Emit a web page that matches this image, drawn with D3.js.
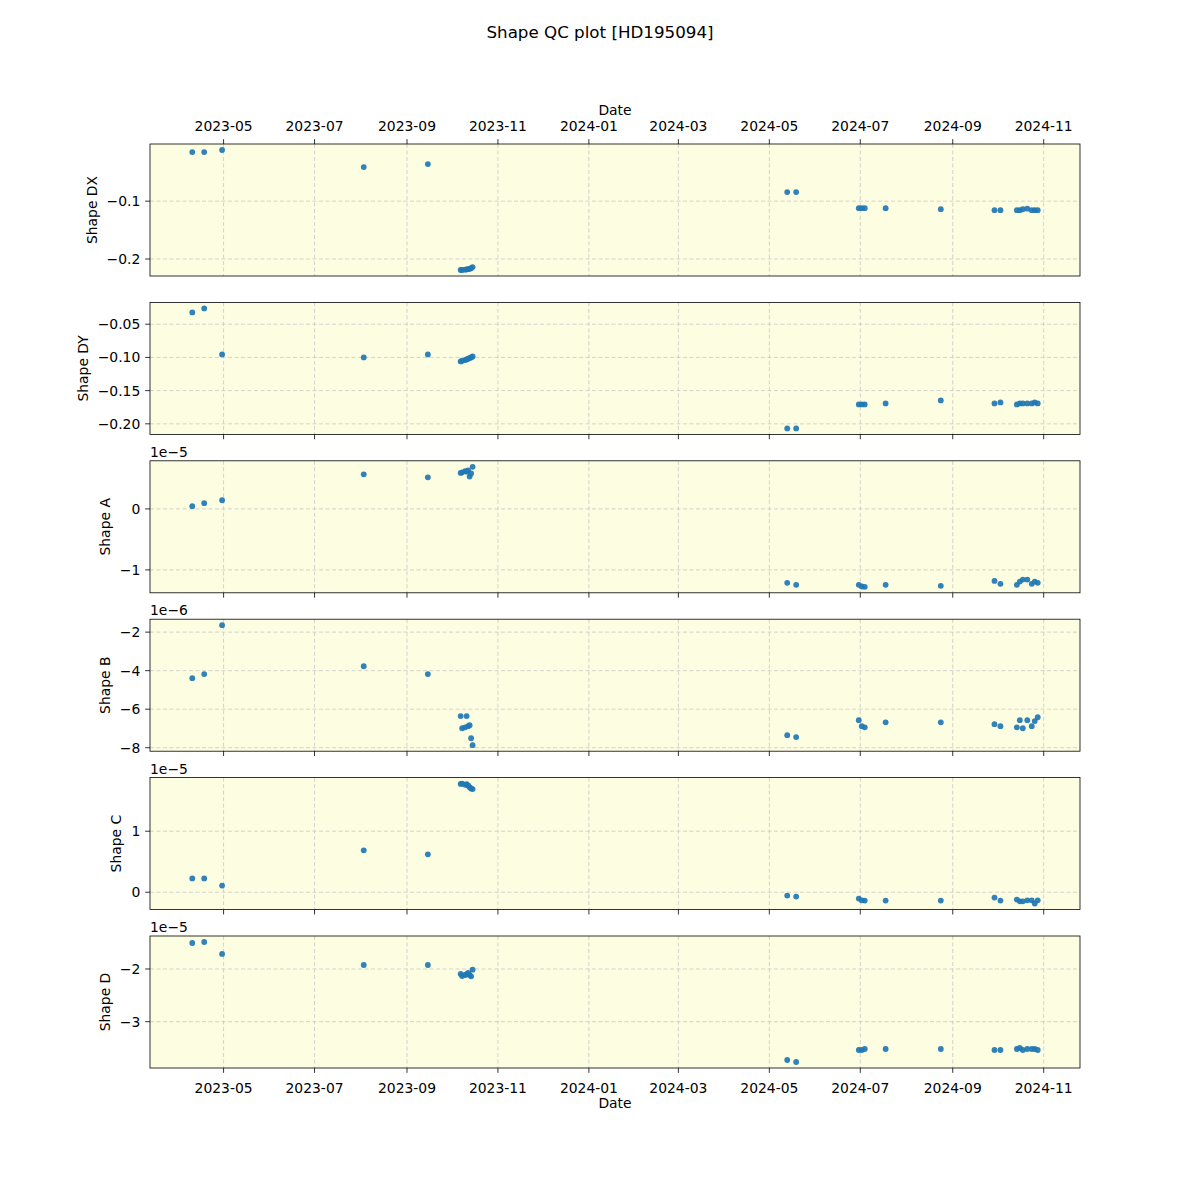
<!DOCTYPE html>
<html>
<head>
<meta charset="utf-8">
<script src="https://cdn.jsdelivr.net/npm/d3@7"></script>
<style>
  body { margin: 0; background: #fff; }
  svg text { font-family: "DejaVu Sans", sans-serif; }
</style>
</head>
<body>
<div id="chart"></div>
<script>
// ---- data ----
const dates = [
  "2023-04-10","2023-04-18","2023-04-30","2023-08-03","2023-09-15",
  "2023-10-07","2023-10-08","2023-10-10","2023-10-11","2023-10-12","2023-10-13","2023-10-14","2023-10-15",
  "2024-05-13","2024-05-19","2024-06-30","2024-07-02","2024-07-04","2024-07-18","2024-08-24",
  "2024-09-29","2024-10-03",
  "2024-10-14","2024-10-16","2024-10-18","2024-10-21","2024-10-24","2024-10-26","2024-10-28"
];
const shapeDX = [-0.0151,-0.0151,-0.0116,-0.0411,-0.0359,
  -0.219,-0.219,-0.2185,-0.218,-0.2175,-0.217,-0.216,-0.214,
  -0.0844,-0.0844,-0.1121,-0.1121,-0.1121,-0.1121,-0.1139,
  -0.1156,-0.1156,
  -0.1156,-0.1156,-0.1140,-0.1130,-0.1156,-0.1156,-0.1156];
const shapeDY = [-0.0322,-0.0262,-0.0955,-0.1000,-0.0955,
  -0.106,-0.105,-0.104,-0.103,-0.102,-0.101,-0.100,-0.0985,
  -0.2069,-0.2069,-0.1708,-0.1708,-0.1708,-0.1693,-0.1648,
  -0.1693,-0.1678,
  -0.1708,-0.1693,-0.1693,-0.1693,-0.1693,-0.1678,-0.1693];
const shapeA = [0.044,0.093,0.142,0.566,0.517,
  0.59,0.60,0.62,0.61,0.63,0.53,0.58,0.69,
  -1.212,-1.245,-1.245,-1.272,-1.277,-1.245,-1.261,
  -1.180,-1.228,
  -1.245,-1.191,-1.158,-1.158,-1.228,-1.191,-1.212].map(v => v * 1e-5);
const shapeB = [-4.39,-4.18,-1.64,-3.77,-4.18,
  -6.36,-6.99,-6.94,-6.36,-6.88,-6.83,-7.51,-7.87,
  -7.35,-7.45,-6.57,-6.88,-6.94,-6.68,-6.68,
  -6.78,-6.88,
  -6.94,-6.57,-6.99,-6.57,-6.88,-6.62,-6.42].map(v => v * 1e-6);
const shapeC = [0.226,0.226,0.110,0.687,0.621,
  1.774,1.780,1.760,1.770,1.750,1.720,1.700,1.690,
  -0.054,-0.071,-0.104,-0.132,-0.137,-0.137,-0.137,
  -0.087,-0.137,
  -0.120,-0.148,-0.148,-0.132,-0.132,-0.186,-0.132].map(v => v * 1e-5);
const shapeD = [-1.507,-1.488,-1.715,-1.924,-1.924,
  -2.095,-2.133,-2.114,-2.100,-2.076,-2.114,-2.140,-2.013,
  -3.727,-3.765,-3.537,-3.537,-3.518,-3.518,-3.518,
  -3.537,-3.537,
  -3.518,-3.499,-3.537,-3.518,-3.518,-3.518,-3.537].map(v => v * 1e-5);

const xTickLabels = ["2023-05","2023-07","2023-09","2023-11","2024-01","2024-03","2024-05","2024-07","2024-09","2024-11"];
const panelNames = ["Shape DX","Shape DY","Shape A","Shape B","Shape C","Shape D"];
const panelValues = [shapeDX, shapeDY, shapeA, shapeB, shapeC, shapeD];
const yTicks = [[-0.1,-0.2],[-0.05,-0.10,-0.15,-0.20],[0,-1e-5],[-2e-6,-4e-6,-6e-6,-8e-6],[0,1e-5],[-2e-5,-3e-5]];
const yScaleExp = [0, 0, -5, -6, -5, -5];
const yDecimals = [1, 2, 0, 0, 0, 0];
const titleText = "Shape QC plot [HD195094]";

// ---- layout ----
const W = 1200, H = 1200;
const axL = 150, axR = 1080, axT = 144, axB = 1068;
const nP = 6, hspace = 0.2;
const ph = (axB - axT) / (nP + (nP - 1) * hspace);
const gap = ph * hspace;
const tickLen = 4.86, tickPad = 4.86, fs = 13.9;
const minus = s => s.replace(/-/g, "\u2212");

const svg = d3.select("#chart").append("svg").attr("width", W).attr("height", H);
svg.append("rect").attr("width", W).attr("height", H).attr("fill", "#fff");

svg.append("text").attr("x", 600).attr("y", 38).attr("text-anchor", "middle")
  .attr("font-size", 16.7).text(titleText);

const parse = d3.utcParse("%Y-%m-%d");
const dd = dates.map(parse);
const xExt = d3.extent(dd);
const span = xExt[1] - xExt[0];
const x = d3.scaleUtc()
  .domain([new Date(+xExt[0] - 0.05 * span), new Date(+xExt[1] + 0.05 * span)])
  .range([axL, axR]);
const xTicks = xTickLabels.map(s => parse(s + "-01"));

panelValues.forEach((vals, i) => {
  const y0 = axT + i * (ph + gap), y1 = y0 + ph;
  const ext = d3.extent(vals);
  const m = (ext[1] - ext[0]) * 0.05;
  const y = d3.scaleLinear().domain([ext[0] - m, ext[1] + m]).range([y1, y0]);
  const g = svg.append("g");

  g.append("rect").attr("x", axL).attr("y", y0).attr("width", axR - axL).attr("height", ph)
    .attr("fill", "#fdfde1");

  g.selectAll(".vg").data(xTicks).enter().append("line")
    .attr("x1", d => x(d)).attr("x2", d => x(d)).attr("y1", y0).attr("y2", y1)
    .attr("stroke", "#c8c8c8").attr("stroke-width", 0.8).attr("stroke-dasharray", "4,2.5");
  g.selectAll(".hg").data(yTicks[i]).enter().append("line")
    .attr("x1", axL).attr("x2", axR).attr("y1", d => y(d)).attr("y2", d => y(d))
    .attr("stroke", "#c8c8c8").attr("stroke-width", 0.8).attr("stroke-dasharray", "4,2.5");

  g.selectAll("circle").data(vals).enter().append("circle")
    .attr("cx", (d, j) => x(dd[j])).attr("cy", d => y(d)).attr("r", 2.9)
    .attr("fill", "#1f77b4").attr("fill-opacity", 0.92);

  g.append("rect").attr("x", axL).attr("y", y0).attr("width", axR - axL).attr("height", ph)
    .attr("fill", "none").attr("stroke", "#000").attr("stroke-width", 0.8);

  const sc = Math.pow(10, yScaleExp[i]);
  const lbls = [];
  yTicks[i].forEach(t => {
    g.append("line").attr("x1", axL - tickLen).attr("x2", axL).attr("y1", y(t)).attr("y2", y(t))
      .attr("stroke", "#000").attr("stroke-width", 0.8);
    const v = Math.round((t / sc) * 1e6) / 1e6;
    const lab = g.append("text").attr("x", axL - tickLen - tickPad).attr("y", y(t)).attr("dy", "0.36em")
      .attr("text-anchor", "end").attr("font-size", fs).text(minus(v.toFixed(yDecimals[i])));
    lbls.push(lab.node().getComputedTextLength());
  });
  const maxw = d3.max(lbls);
  const lx = axL - tickLen - tickPad - maxw - 10;
  g.append("text").attr("transform", `translate(${lx},${(y0 + y1) / 2}) rotate(-90)`)
    .attr("text-anchor", "middle").attr("font-size", fs).text(panelNames[i]);
  if (yScaleExp[i] !== 0) {
    g.append("text").attr("x", axL).attr("y", y0 - 4).attr("font-size", fs)
      .text("1e" + minus(String(yScaleExp[i])));
  }

  if (i === 0) {
    xTicks.forEach((t, k) => {
      g.append("line").attr("x1", x(t)).attr("x2", x(t)).attr("y1", y0 - tickLen).attr("y2", y0)
        .attr("stroke", "#000").attr("stroke-width", 0.8);
      g.append("text").attr("x", x(t)).attr("y", y0 - tickLen - tickPad - 3.3)
        .attr("text-anchor", "middle").attr("font-size", fs).text(xTickLabels[k]);
    });
    g.append("text").attr("x", (axL + axR) / 2).attr("y", 115).attr("text-anchor", "middle")
      .attr("font-size", fs).text("Date");
  } else {
    xTicks.forEach((t, k) => {
      g.append("line").attr("x1", x(t)).attr("x2", x(t)).attr("y1", y1).attr("y2", y1 + tickLen)
        .attr("stroke", "#000").attr("stroke-width", 0.8);
      if (i === nP - 1) {
        g.append("text").attr("x", x(t)).attr("y", y1 + tickLen + tickPad + 15)
          .attr("text-anchor", "middle").attr("font-size", fs).text(xTickLabels[k]);
      }
    });
    if (i === nP - 1) {
      g.append("text").attr("x", (axL + axR) / 2).attr("y", 1108).attr("text-anchor", "middle")
        .attr("font-size", fs).text("Date");
    }
  }
});
</script>
</body>
</html>
